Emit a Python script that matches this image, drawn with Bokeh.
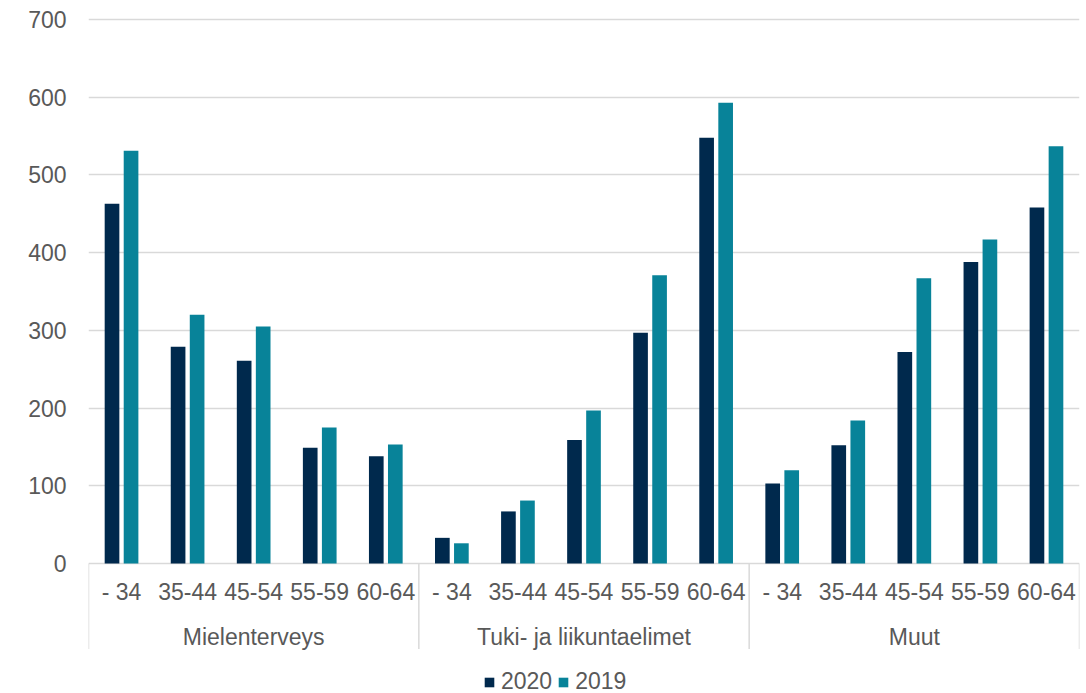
from bokeh.plotting import figure
from bokeh.models import (ColumnDataSource, FactorRange, Range1d, FixedTicker,
                          Legend, LegendItem, CategoricalAxis)
from bokeh.transform import dodge
from bokeh.embed import file_html
from bokeh.resources import INLINE

groups = ["Mielenterveys", "Tuki- ja liikuntaelimet", "Muut"]
ages = ["- 34", "35-44", "45-54", "55-59", "60-64"]
values_2020 = [463, 279, 261, 149, 138,
               33, 67, 159, 297, 548,
               103, 152, 272, 388, 458]
values_2019 = [531, 320, 305, 175, 153,
               26, 81, 197, 371, 593,
               120, 184, 367, 417, 537]
series_names = ["2020", "2019"]
y_ticks = [0, 100, 200, 300, 400, 500, 600, 700]

NAVY = "#00294D"
TEAL = "#088399"
GRID = "#D9D9D9"
TXT = "#595959"
FONT = "Liberation Sans"
FS = "23px"

factors = [(g, a) for g in groups for a in ages]
source = ColumnDataSource(dict(x=factors, v2020=values_2020, v2019=values_2019))

x_range = FactorRange(factors=factors, factor_padding=0, group_padding=0,
                      subgroup_padding=0, range_padding=0)
y_range = Range1d(-167.3, 702.6)

p = figure(width=1080, height=693, x_range=x_range, y_range=y_range,
           output_backend="svg", toolbar_location=None, x_axis_location=None)
p.min_border_left = 88
p.min_border_right = 1
p.min_border_top = 17
p.min_border_bottom = 0
p.outline_line_color = None
p.background_fill_color = "white"
p.border_fill_color = "white"

r1 = p.vbar(x=dodge("x", -0.144, range=p.x_range), top="v2020", width=0.222,
            source=source, fill_color=NAVY, line_color=None)
r2 = p.vbar(x=dodge("x", 0.144, range=p.x_range), top="v2019", width=0.222,
            source=source, fill_color=TEAL, line_color=None)

# y axis
yax = p.yaxis[0]
yax.ticker = FixedTicker(ticks=y_ticks)
yax.axis_line_color = None
yax.major_tick_line_color = None
yax.minor_tick_line_color = None
yax.major_tick_out = 0
yax.major_tick_in = 0
yax.major_label_standoff = 22
yax.major_label_text_font = FONT
yax.major_label_text_font_size = FS
yax.major_label_text_color = TXT

p.xgrid.grid_line_color = None
p.ygrid.grid_line_color = GRID
p.ygrid.grid_line_width = 1.5

# x axis placed at y = 0 inside the frame
xax = CategoricalAxis(fixed_location=0)
xax.axis_line_color = None
xax.major_tick_line_color = None
xax.minor_tick_line_color = None
xax.major_tick_out = 0
xax.major_tick_in = 0
xax.separator_line_color = None
xax.major_label_standoff = 16
xax.major_label_text_font = FONT
xax.major_label_text_font_size = FS
xax.major_label_text_color = TXT
xax.group_text_font = FONT
xax.group_text_font_size = FS
xax.group_text_font_style = "normal"
xax.group_text_color = TXT
p.add_layout(xax, "below")

# group separators
sep_x = [(groups[0], ages[0], -0.5)] + [(g, ages[-1], 0.5) for g in groups]
sep_src = ColumnDataSource(dict(x=sep_x, y0=[0] * len(sep_x), y1=[-110] * len(sep_x)))
p.segment(x0="x", y0="y0", x1="x", y1="y1", source=sep_src,
          line_color=GRID, line_width=1.5)

legend = Legend(items=[LegendItem(label=series_names[0], renderers=[r1]),
                       LegendItem(label=series_names[1], renderers=[r2])],
                orientation="horizontal", location=(395, -2))
legend.margin = 0
legend.padding = 0
legend.spacing = 5
legend.glyph_width = 12
legend.glyph_height = 12
legend.label_standoff = 6
legend.label_text_font = FONT
legend.label_text_font_size = FS
legend.label_text_color = TXT
legend.background_fill_alpha = 0
legend.border_line_color = None
p.add_layout(legend, "center")

with open("out.html", "w") as f:
    f.write(file_html(p, INLINE))
